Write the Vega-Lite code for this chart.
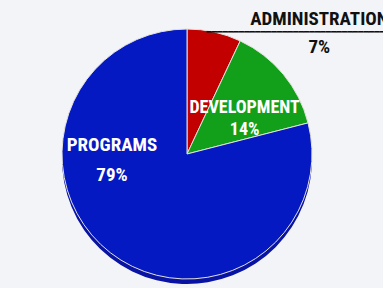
{
  "$schema": "https://vega.github.io/schema/vega-lite/v6.json",
  "width": 374,
  "height": 268,
  "autosize": {"type": "none"},
  "padding": {"left": 0, "right": 9, "top": 20, "bottom": 0},
  "background": "#f3f4f8",
  "config": {"view": {"stroke": null}},
  "data": {"values": [
    {"category": "ADMINISTRATION", "share": 0.07},
    {"category": "DEVELOPMENT", "share": 0.14},
    {"category": "PROGRAMS", "share": 0.79}
  ]},
  "encoding": {
    "theta": {"field": "share", "type": "quantitative", "stack": true},
    "detail": {"field": "category"}
  },
  "layer": [
    {"mark": {"type": "arc", "outerRadius": 125, "yOffset": 5, "fill": "#0913a3"}},
    {
      "mark": {"type": "arc", "outerRadius": 125, "stroke": "#e4e2da", "strokeWidth": 1},
      "encoding": {
        "color": {
          "field": "category", "type": "nominal",
          "scale": {"domain": ["ADMINISTRATION", "DEVELOPMENT", "PROGRAMS"], "range": ["#c20000", "#12a01b", "#0419c2"]},
          "legend": null
        }
      }
    },
    {
      "mark": {"type": "text", "font": "Roboto Condensed, Roboto, sans-serif", "fontWeight": "bold", "fontSize": 19, "fill": "white", "align": "center", "baseline": "alphabetic", "radius": 0, "dx": -75, "dy": -3},
      "encoding": {"text": {"condition": {"test": "datum.category === 'PROGRAMS'", "field": "category"}, "value": ""}}
    },
    {
      "mark": {"type": "text", "font": "Roboto Condensed, Roboto, sans-serif", "fontWeight": "bold", "fontSize": 19, "fill": "white", "align": "center", "baseline": "alphabetic", "radius": 0, "dx": -75, "dy": 27},
      "encoding": {"text": {"condition": {"test": "datum.category === 'PROGRAMS'", "field": "share", "type": "quantitative", "format": ".0%"}, "value": ""}}
    },
    {
      "mark": {"type": "text", "font": "Roboto Condensed, Roboto, sans-serif", "fontWeight": "bold", "fontSize": 18, "fill": "white", "align": "center", "baseline": "alphabetic", "radius": 80, "dx": -4, "dy": 10},
      "encoding": {"text": {"condition": {"test": "datum.category === 'DEVELOPMENT'", "field": "category"}, "value": ""}}
    },
    {
      "mark": {"type": "text", "font": "Roboto Condensed, Roboto, sans-serif", "fontWeight": "bold", "fontSize": 18, "fill": "white", "align": "center", "baseline": "alphabetic", "radius": 80, "dx": -4, "dy": 32},
      "encoding": {"text": {"condition": {"test": "datum.category === 'DEVELOPMENT'", "field": "share", "type": "quantitative", "format": ".0%"}, "value": ""}}
    },
    {
      "mark": {"type": "text", "font": "Roboto Condensed, Roboto, sans-serif", "fontWeight": "bold", "fontSize": 19, "fill": "#111111", "align": "center", "baseline": "alphabetic", "radius": 125, "dx": 105, "dy": -7},
      "encoding": {"text": {"condition": {"test": "datum.category === 'ADMINISTRATION'", "field": "category"}, "value": ""}}
    },
    {
      "mark": {"type": "text", "font": "Roboto Condensed, Roboto, sans-serif", "fontWeight": "bold", "fontSize": 19, "fill": "#111111", "align": "center", "baseline": "alphabetic", "radius": 125, "dx": 105, "dy": 21},
      "encoding": {"text": {"condition": {"test": "datum.category === 'ADMINISTRATION'", "field": "share", "type": "quantitative", "format": ".0%"}, "value": ""}}
    },
    {
      "mark": {"type": "text", "font": "DejaVu Sans Mono", "fontSize": 9, "fill": "#111111", "align": "left", "baseline": "alphabetic", "radius": 125, "dx": -8, "dy": 3},
      "encoding": {"text": {"condition": {"test": "datum.category === 'ADMINISTRATION'", "value": "━━━━━━━━━━━━━━━━━━━━━━━━━━━━━━━━━"}, "value": ""}}
    }
  ]
}
